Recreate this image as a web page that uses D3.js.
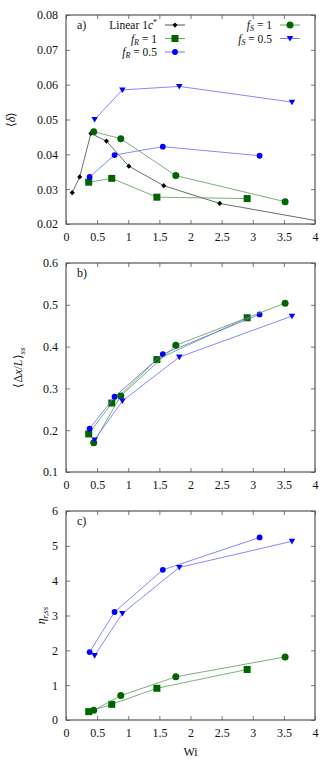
<!DOCTYPE html>
<html><head><meta charset="utf-8">
<script src="https://cdn.jsdelivr.net/npm/d3@7"></script>
<style>
body{margin:0;background:#fff;}
text{font-family:"Liberation Serif","Times New Roman",serif;fill:#111;}
</style></head>
<body><svg id="c" width="332" height="759"></svg>
<script>
// ---- data ----
const xTicks = [0,0.5,1,1.5,2,2.5,3,3.5,4];
const xTickLabels = ["0","0.5","1","1.5","2","2.5","3","3.5","4"];
const yTicksA = [0.02,0.03,0.04,0.05,0.06,0.07,0.08];
const yTicksB = [0.1,0.2,0.3,0.4,0.5,0.6];
const yTicksC = [0,1,2,3,4,5,6];

const linearWi    = [0.10,0.22,0.40,0.65,1.01,1.57,2.47,4.95];
const linearDelta = [0.0290,0.0335,0.0460,0.0438,0.0366,0.0310,0.0259,0.0180];

const fR1Wi   = [0.365,0.735,1.46,2.91];
const fR05Wi  = [0.38,0.78,1.555,3.11];
const fS1Wi   = [0.445,0.88,1.764,3.52];
const fS05Wi  = [0.46,0.906,1.82,3.63];

const fR1Delta  = [0.0320,0.0331,0.0277,0.0273];
const fR05Delta = [0.0335,0.0398,0.0422,0.0396];
const fS1Delta  = [0.0465,0.0445,0.0339,0.0264];
const fS05Delta = [0.0500,0.0585,0.0595,0.0550];

const fR1Dx  = [0.191,0.265,0.369,0.469];
const fR05Dx = [0.204,0.280,0.382,0.477];
const fS1Dx  = [0.170,0.282,0.403,0.504];
const fS05Dx = [0.177,0.270,0.375,0.473];

const fR1Eta  = [0.24,0.45,0.91,1.45];
const fR05Eta = [1.95,3.10,4.31,5.24];
const fS1Eta  = [0.28,0.70,1.24,1.81];
const fS05Eta = [1.85,3.06,4.38,5.13];

// ---- styles ----
const styles = {
  lin:  {marker:"diamond", fill:"#000", line:"#444", size:5},
  fR1:  {marker:"square",  fill:"#006400", line:"#5a9a5a", size:7},
  fR05: {marker:"circle",  fill:"#0000ff", line:"#6a6aff", size:5.8},
  fS1:  {marker:"circle",  fill:"#006400", line:"#5a9a5a", size:7},
  fS05: {marker:"tri",     fill:"#0000ff", line:"#6a6aff", size:6.5}
};

const svg = d3.select("#c");
const L = 66, R = 315, H = 209;
const x = d3.scaleLinear().domain([0,4]).range([L,R]);
const FONT = "'Liberation Serif','Times New Roman',serif";

function markerPath(type, s){
  const h = s/2;
  if(type==="square") return `M${-h},${-h}H${h}V${h}H${-h}Z`;
  if(type==="diamond") return `M0,${-h*1.05}L${h},0L0,${h*1.05}L${-h},0Z`;
  if(type==="tri") return `M${-h},${-h*0.75}H${h}L0,${h*0.95}Z`;
  return null;
}
function drawMarker(g, st, cx, cy){
  if(st.marker==="circle"){
    g.append("circle").attr("cx",cx).attr("cy",cy).attr("r",st.size/2).attr("fill",st.fill);
  } else {
    g.append("path").attr("d",markerPath(st.marker,st.size)).attr("transform",`translate(${cx},${cy})`).attr("fill",st.fill);
  }
}

let clipId=0;
function panel(top, yDomain, yTicks, yFmt, series, label, ylabelFn, ylabX){
  const y = d3.scaleLinear().domain(yDomain).range([top+H, top]);
  const g = svg.append("g");
  const id = "clip"+(clipId++);
  svg.append("clipPath").attr("id",id).append("rect").attr("x",L).attr("y",top).attr("width",R-L).attr("height",H);
  g.append("rect").attr("x",L).attr("y",top).attr("width",R-L).attr("height",H)
    .attr("fill","none").attr("stroke","#333").attr("stroke-width",1);
  const xb = d3.axisBottom(x).tickValues(xTicks).tickSizeInner(-4).tickSizeOuter(0).tickPadding(8)
     .tickFormat((d,i)=>xTickLabels[i]);
  const gx = g.append("g").attr("transform",`translate(0,${top+H})`).call(xb);
  const xt = d3.axisTop(x).tickValues(xTicks).tickSizeInner(-4).tickSizeOuter(0).tickFormat("");
  const gxt = g.append("g").attr("transform",`translate(0,${top})`).call(xt);
  const yl = d3.axisLeft(y).tickValues(yTicks).tickSizeInner(-4).tickSizeOuter(0).tickPadding(8).tickFormat(yFmt);
  const gy = g.append("g").attr("transform",`translate(${L},0)`).call(yl);
  const yr = d3.axisRight(y).tickValues(yTicks).tickSizeInner(-4).tickSizeOuter(0).tickFormat("");
  const gyr = g.append("g").attr("transform",`translate(${R},0)`).call(yr);
  [gx,gxt,gy,gyr].forEach(a=>{
    a.select(".domain").remove();
    a.selectAll("line").attr("stroke","#555").attr("stroke-width",0.8);
    a.selectAll("text").attr("font-size",12).attr("font-family",FONT).attr("fill","#111");
  });
  const pg = g.append("g").attr("clip-path",`url(#${id})`);
  series.forEach(s=>{
    const st = styles[s.key];
    const pts = s.xs.map((v,i)=>[v,s.ys[i]]);
    pg.append("path").datum(pts)
      .attr("d", d3.line().x(d=>x(d[0])).y(d=>y(d[1])))
      .attr("fill","none").attr("stroke",st.line).attr("stroke-width",0.8);
    pts.forEach(p=>drawMarker(pg, st, x(p[0]), y(p[1])));
  });
  g.append("text").attr("x",77).attr("y",top+14).attr("font-size",12).text(label);
  const t = g.append("text").attr("transform",`translate(${ylabX},${top+H/2}) rotate(-90)`)
    .attr("text-anchor","middle").attr("font-size",12);
  ylabelFn(t);
  return {y,g};
}

panel(15,[0.02,0.08],yTicksA,d3.format(".2f"),[
  {key:"lin",xs:linearWi,ys:linearDelta},
  {key:"fR1",xs:fR1Wi,ys:fR1Delta},
  {key:"fR05",xs:fR05Wi,ys:fR05Delta},
  {key:"fS1",xs:fS1Wi,ys:fS1Delta},
  {key:"fS05",xs:fS05Wi,ys:fS05Delta}
],"a)", t=>{
  t.append("tspan").text("⟨");
  t.append("tspan").attr("font-style","italic").text("δ");
  t.append("tspan").text("⟩");
}, 15);

panel(263,[0.1,0.6],yTicksB,d3.format(".1f"),[
  {key:"fR1",xs:fR1Wi,ys:fR1Dx},
  {key:"fR05",xs:fR05Wi,ys:fR05Dx},
  {key:"fS1",xs:fS1Wi,ys:fS1Dx},
  {key:"fS05",xs:fS05Wi,ys:fS05Dx}
],"b)", t=>{
  t.append("tspan").text("⟨Δ");
  t.append("tspan").attr("font-style","italic").text("x");
  t.append("tspan").text("/");
  t.append("tspan").attr("font-style","italic").text("L");
  t.append("tspan").text("⟩");
  t.append("tspan").attr("font-style","italic").attr("font-size",9).attr("dy",3).text("ss");
}, 22);

panel(511,[0,6],yTicksC,d3.format("d"),[
  {key:"fR1",xs:fR1Wi,ys:fR1Eta},
  {key:"fR05",xs:fR05Wi,ys:fR05Eta},
  {key:"fS1",xs:fS1Wi,ys:fS1Eta},
  {key:"fS05",xs:fS05Wi,ys:fS05Eta}
],"c)", t=>{
  t.append("tspan").attr("font-style","italic").text("η");
  t.append("tspan").attr("font-style","italic").attr("font-size",9).attr("dy",3).text("r,ss");
}, 45);

svg.append("text").attr("x",(L+R)/2).attr("y",756).attr("text-anchor","middle").attr("font-size",12).text("Wi");

// legend
const legendItems = [
  {key:"lin", col:0,row:0, parts:[["Linear 1",""],["c","i"],["*","sup"]]},
  {key:"fR1", col:0,row:1, parts:[["f","i"],["R","sub"],[" = 1","back"]]},
  {key:"fR05",col:0,row:2, parts:[["f","i"],["R","sub"],[" = 0.5","back"]]},
  {key:"fS1", col:1,row:0, parts:[["f","i"],["S","sub"],[" = 1","back"]]},
  {key:"fS05",col:1,row:1, parts:[["f","i"],["S","sub"],[" = 0.5","back"]]}
];
const colTextRight=[157,272], colSample=[165,280];
const lg = svg.append("g");
legendItems.forEach(it=>{
  const yy = 25 + it.row*13.5;
  const t = lg.append("text").attr("x",colTextRight[it.col]).attr("y",yy+4).attr("text-anchor","end").attr("font-size",11.5);
  it.parts.forEach(p=>{
    const ts = t.append("tspan").text(p[0]);
    if(p[1]==="i") ts.attr("font-style","italic");
    if(p[1]==="sub") ts.attr("font-style","italic").attr("font-size",8).attr("dy",2);
    if(p[1]==="sup") ts.attr("font-size",8).attr("dy",-4);
    if(p[1]==="back") ts.attr("dy",-2);
  });
  const st = styles[it.key];
  lg.append("line").attr("x1",colSample[it.col]).attr("x2",colSample[it.col]+20).attr("y1",yy).attr("y2",yy)
    .attr("stroke",st.line).attr("stroke-width",0.9);
  drawMarker(lg, st, colSample[it.col]+10, yy);
});
</script></body></html>
